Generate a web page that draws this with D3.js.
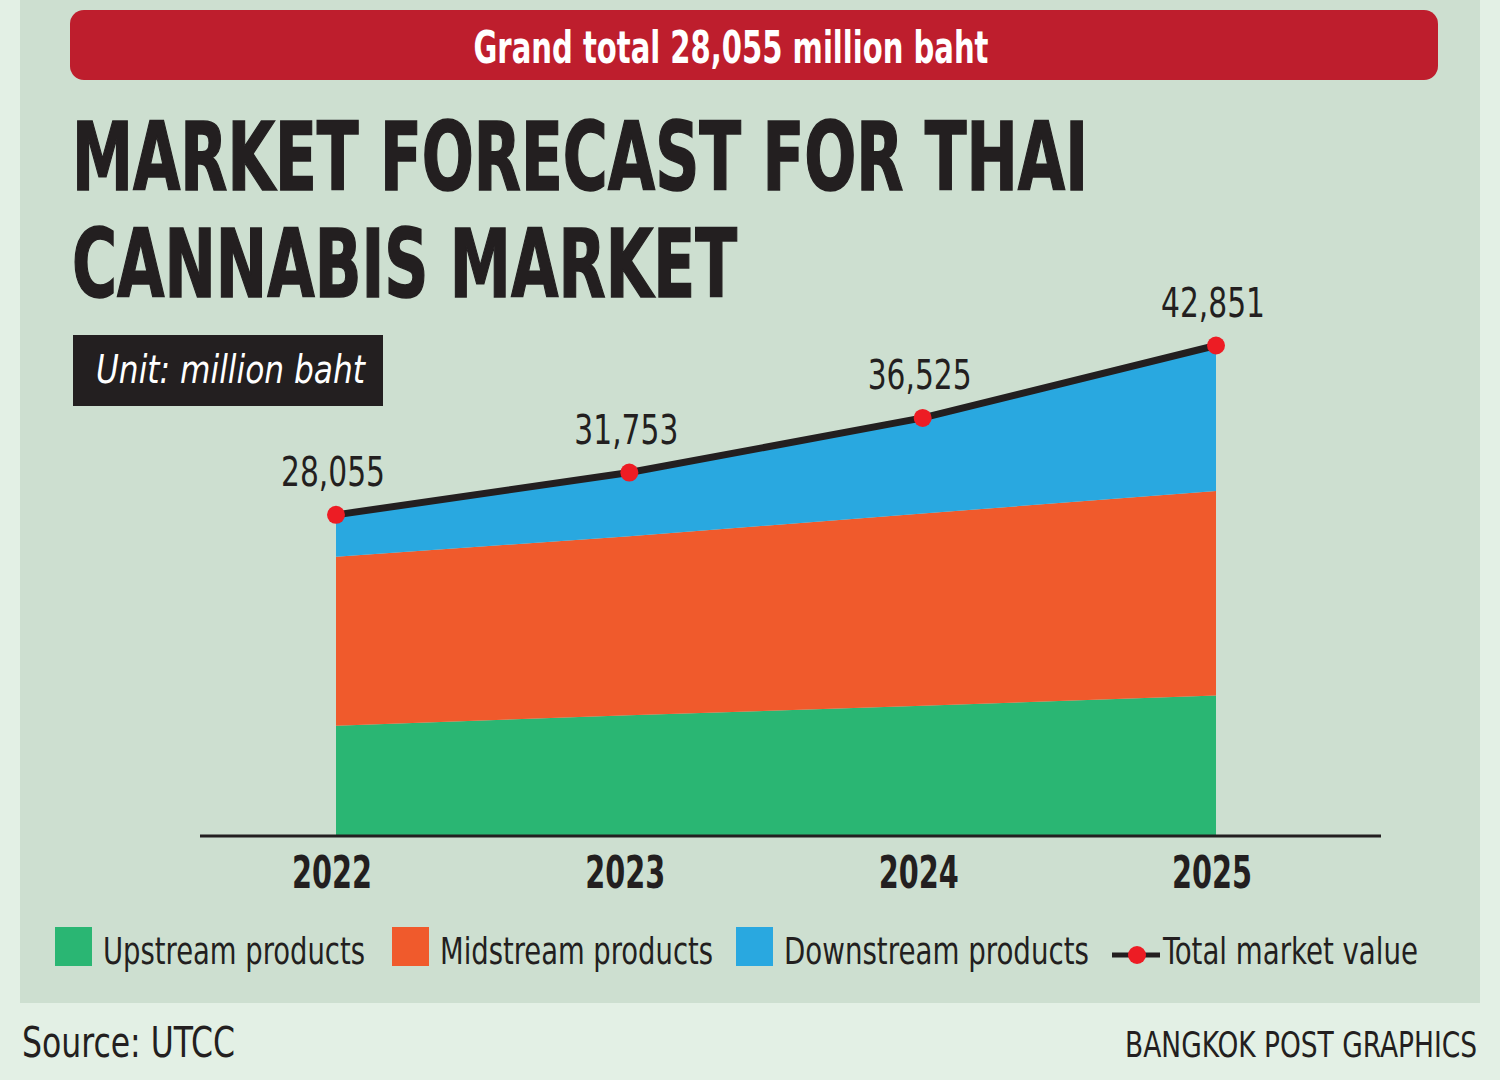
<!DOCTYPE html>
<html>
<head>
<meta charset="utf-8">
<script src="https://cdn.jsdelivr.net/npm/d3@7"></script>
<style>
  html, body { margin: 0; padding: 0; background: #e3f0e5; }
  svg { display: block; }
</style>
</head>
<body>
<svg id="chart" width="1500" height="1080"></svg>
<script>
// ---------- data ----------
const years = ["2022", "2023", "2024", "2025"];
const upstream = [9640, 10550, 11370, 12270];
const midstream = [14760, 15630, 16800, 17870];
const downstream = [3655, 5573, 8355, 12711];
const totals = [28055, 31753, 36525, 42851];
const totalLabels = ["28,055", "31,753", "36,525", "42,851"];
const seriesNames = ["Upstream products", "Midstream products", "Downstream products"];
const seriesColors = ["#2ab673", "#f05a2c", "#29a8e0"];
const titleLines = ["MARKET FORECAST FOR THAI", "CANNABIS MARKET"];
const bannerText = "Grand total 28,055 million baht";
const unitText = "Unit: million baht";
const lineLegend = "Total market value";
const sourceText = "Source: UTCC";
const creditText = "BANGKOK POST GRAPHICS";

// ---------- setup ----------
const NARROW = "'Liberation Sans Narrow', 'DejaVu Sans Condensed', 'Roboto', sans-serif";
const svg = d3.select("#chart");

// backgrounds
svg.append("rect").attr("x", 0).attr("y", 0).attr("width", 1500).attr("height", 1080).attr("fill", "#e3f0e5");
svg.append("rect").attr("x", 20).attr("y", 0).attr("width", 1460).attr("height", 1003).attr("fill", "#cddfd0");

// banner
svg.append("rect").attr("x", 70).attr("y", 10).attr("width", 1368).attr("height", 70)
  .attr("rx", 14).attr("fill", "#be1e2d");
svg.append("text").attr("x", 731).attr("y", 63).attr("text-anchor", "middle")
  .attr("font-family", NARROW).attr("font-weight", "bold").attr("font-size", 45)
  .attr("fill", "#ffffff").attr("textLength", 515).attr("lengthAdjust", "spacingAndGlyphs")
  .text(bannerText);

// title
const titleWidths = [1016, 665];
const titleBaselines = [189.5, 296.5];
titleLines.forEach((t, i) => {
  svg.append("text").attr("x", 72).attr("y", titleBaselines[i])
    .attr("font-family", NARROW).attr("font-weight", "bold").attr("font-size", 94)
    .attr("fill", "#231f20").attr("stroke", "#231f20").attr("stroke-width", 1.5)
    .attr("textLength", titleWidths[i]).attr("lengthAdjust", "spacingAndGlyphs")
    .text(t);
});

// unit box
svg.append("rect").attr("x", 73).attr("y", 335).attr("width", 310).attr("height", 71).attr("fill", "#231f20");
svg.append("text").attr("x", 96).attr("y", 383).attr("font-family", NARROW).attr("font-style", "italic")
  .attr("font-size", 39).attr("fill", "#ffffff").attr("textLength", 269).attr("lengthAdjust", "spacingAndGlyphs")
  .text(unitText);

// ---------- scales ----------
const x = d3.scalePoint().domain(years).range([336, 1216]);
const y = d3.scaleLinear().domain([0, 42851]).range([836, 345.5]);

const rows = years.map((yr, i) => ({
  year: yr,
  [seriesNames[0]]: upstream[i],
  [seriesNames[1]]: midstream[i],
  [seriesNames[2]]: downstream[i],
  total: totals[i],
  label: totalLabels[i]
}));

const stack = d3.stack().keys(seriesNames);
const layers = stack(rows);

const area = d3.area()
  .x(d => x(d.data.year))
  .y0(d => y(d[0]))
  .y1(d => y(d[1]));

svg.append("g").selectAll("path").data(layers).join("path")
  .attr("d", area)
  .attr("fill", (d, i) => seriesColors[i]);

// axis line
const axisG = svg.append("g").attr("transform", `translate(0,${y(0)})`);
axisG.append("line").attr("x1", 200).attr("x2", 1381).attr("y1", 0).attr("y2", 0)
  .attr("stroke", "#231f20").attr("stroke-width", 3);
axisG.selectAll("text.year").data(years).join("text").attr("class", "year")
  .attr("x", d => x(d) - 4).attr("y", 52).attr("text-anchor", "middle")
  .attr("font-family", NARROW).attr("font-weight", "bold").attr("font-size", 45)
  .attr("fill", "#231f20").attr("textLength", 80).attr("lengthAdjust", "spacingAndGlyphs")
  .text(d => d);

// total line
const line = d3.line().x(d => x(d.year)).y(d => y(d.total));
svg.append("path").datum(rows).attr("d", line)
  .attr("fill", "none").attr("stroke", "#231f20").attr("stroke-width", 7).attr("stroke-linejoin", "round");
svg.append("g").selectAll("circle").data(rows).join("circle")
  .attr("cx", d => x(d.year)).attr("cy", d => y(d.total)).attr("r", 9).attr("fill", "#ed1c24");
svg.append("g").selectAll("text").data(rows).join("text")
  .attr("x", d => x(d.year) - 3).attr("y", d => y(d.total) - 29).attr("text-anchor", "middle")
  .attr("font-family", NARROW).attr("font-size", 41).attr("fill", "#231f20")
  .attr("textLength", 104).attr("lengthAdjust", "spacingAndGlyphs")
  .text(d => d.label);

// ---------- legend ----------
const legendX = [55, 392, 736];
const legendTextW = [262, 273, 305];
seriesNames.forEach((name, i) => {
  svg.append("rect").attr("x", legendX[i]).attr("y", 927).attr("width", 37).attr("height", 39)
    .attr("fill", seriesColors[i]);
  svg.append("text").attr("x", legendX[i] + 48).attr("y", 964)
    .attr("font-family", NARROW).attr("font-size", 38).attr("fill", "#231f20")
    .attr("textLength", legendTextW[i]).attr("lengthAdjust", "spacingAndGlyphs")
    .text(name);
});
svg.append("line").attr("x1", 1112).attr("x2", 1160).attr("y1", 955).attr("y2", 955)
  .attr("stroke", "#231f20").attr("stroke-width", 5);
svg.append("circle").attr("cx", 1137).attr("cy", 955).attr("r", 9).attr("fill", "#ed1c24");
svg.append("text").attr("x", 1163).attr("y", 964)
  .attr("font-family", NARROW).attr("font-size", 38).attr("fill", "#231f20")
  .attr("textLength", 255).attr("lengthAdjust", "spacingAndGlyphs")
  .text(lineLegend);

// footer
svg.append("text").attr("x", 22).attr("y", 1057)
  .attr("font-family", NARROW).attr("font-size", 43).attr("fill", "#231f20")
  .attr("textLength", 213).attr("lengthAdjust", "spacingAndGlyphs")
  .text(sourceText);
const credit = svg.append("text")
  .attr("font-family", NARROW).attr("font-size", 36).attr("fill", "#231f20")
  .attr("text-anchor", "end")
  .text(creditText);
const naturalW = credit.node().getComputedTextLength();
const sx = 352 / naturalW;
credit.attr("transform", `translate(1477,1057) scale(${sx},1)`);
</script>
</body>
</html>
